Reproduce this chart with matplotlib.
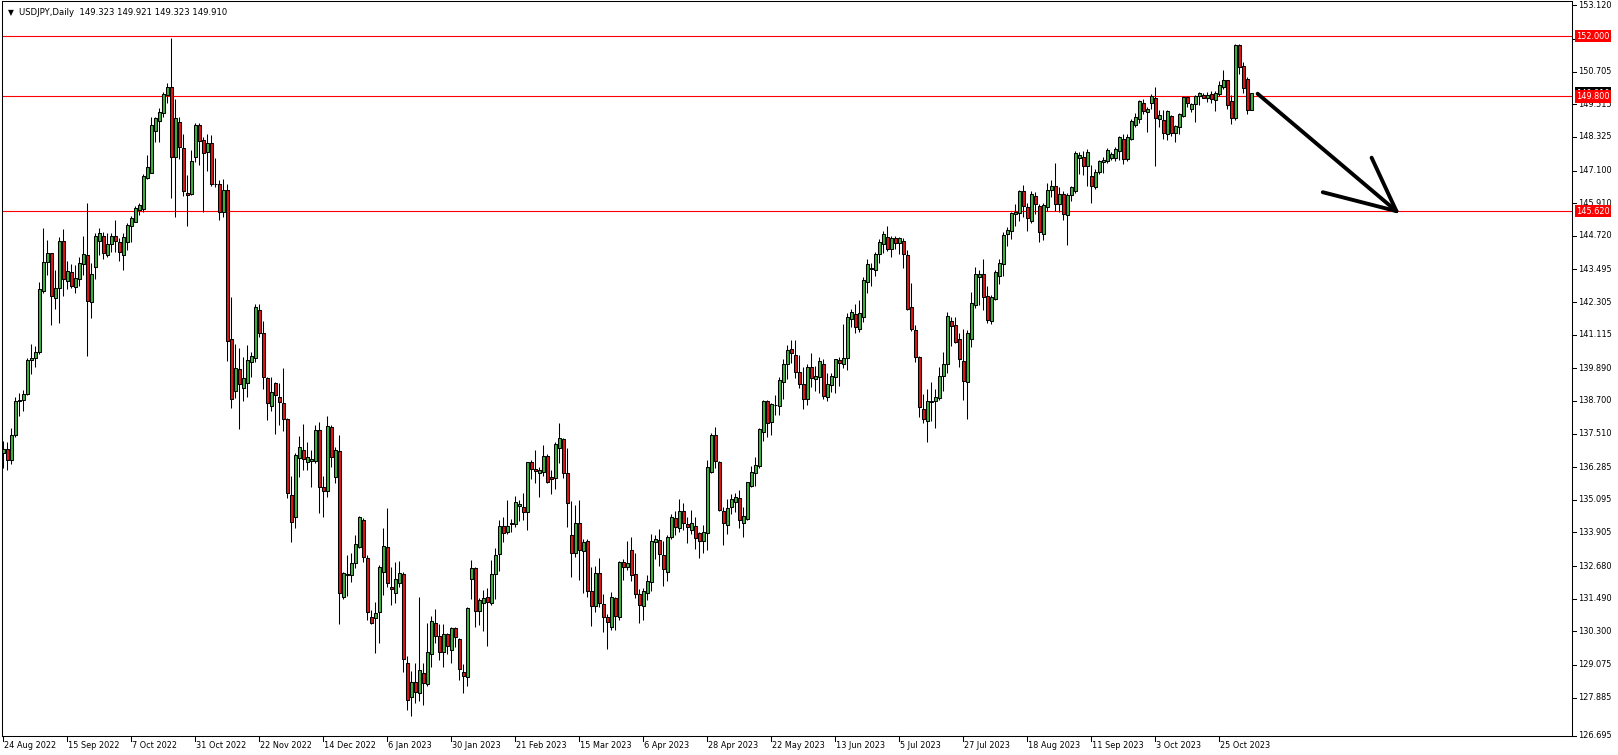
import numpy as np
import matplotlib
matplotlib.use("Agg")
import matplotlib.pyplot as plt

# USDJPY daily candles, 24 Aug 2022 .. 6 Nov 2023
OPEN = [
    136.80, 136.95, 136.55, 137.45, 138.70, 138.75, 138.95, 140.20, 140.25, 140.50,
    142.72, 143.75, 144.08, 142.45, 142.80, 144.53, 143.08, 143.41, 142.86, 143.16,
    143.68, 144.01, 142.32, 143.59, 144.54, 144.73, 144.02, 144.42, 144.71, 144.49,
    144.02, 144.51, 145.09, 145.24, 145.66, 145.70, 146.81, 147.02, 148.55, 148.92,
    149.21, 149.85, 150.13, 147.60, 148.86, 147.91, 146.27, 146.23, 147.60, 148.76,
    148.21, 147.79, 148.12, 146.62, 146.60, 145.60, 146.40, 140.95, 139.07, 139.86,
    139.19, 139.37, 140.13, 140.25, 142.02, 141.16, 139.52, 138.51, 139.34, 138.83,
    138.61, 138.03, 135.26, 134.48, 136.63, 136.91, 136.49, 136.52, 136.52, 137.64,
    135.55, 135.43, 137.76, 135.91, 136.87, 131.54, 132.36, 132.36, 132.80, 133.36,
    134.36, 132.96, 130.81, 130.77, 130.99, 132.48, 133.36, 131.90, 131.71, 132.05,
    132.39, 129.16, 127.90, 128.44, 128.06, 128.80, 128.38, 129.46, 130.59, 130.13,
    129.53, 130.20, 129.62, 130.41, 130.01, 128.83, 128.62, 132.20, 132.60, 131.04,
    131.34, 131.54, 131.32, 132.38, 133.11, 134.14, 133.93, 134.22, 134.21, 134.88,
    134.82, 134.66, 136.46, 136.21, 136.06, 136.10, 136.70, 135.91, 135.88, 136.97,
    137.30, 136.06, 133.81, 133.17, 134.24, 133.24, 133.59, 131.77, 131.24, 132.44,
    131.30, 130.81, 130.47, 131.50, 130.84, 132.82, 132.65, 133.27, 132.39, 131.66,
    131.24, 131.69, 132.09, 133.55, 133.63, 133.08, 132.48, 133.75, 134.42, 134.05,
    134.69, 134.20, 133.99, 134.15, 133.87, 133.61, 133.87, 136.12, 137.46, 136.46,
    134.70, 134.18, 134.82, 135.00, 135.15, 134.24, 134.40, 135.61, 136.06, 136.34,
    137.58, 138.70, 137.94, 138.55, 138.53, 139.40, 140.03, 140.58, 140.37, 139.74,
    139.31, 138.76, 139.93, 139.50, 139.58, 140.03, 138.83, 139.28, 139.58, 140.19,
    140.03, 140.25, 141.68, 141.86, 141.32, 141.75, 143.02, 143.51, 143.47, 144.05,
    144.41, 144.69, 144.23, 144.63, 144.47, 144.53, 144.02, 142.11, 141.29, 140.31,
    138.40, 137.98, 138.66, 138.71, 138.82, 139.62, 140.03, 141.63, 141.47, 140.96,
    140.16, 139.38, 140.95, 142.20, 143.23, 143.32, 142.53, 141.63, 142.41, 143.27,
    143.69, 144.77, 144.91, 145.51, 145.56, 146.35, 145.78, 145.27, 146.17, 145.81,
    144.77, 145.78, 146.39, 146.54, 145.87, 146.23, 145.48, 146.21, 146.37, 147.57,
    147.58, 147.27, 146.91, 146.51, 147.06, 147.41, 147.46, 147.54, 147.54, 147.82,
    148.24, 147.52, 148.25, 148.76, 148.97, 149.57, 149.22, 149.57, 149.76, 148.97,
    148.94, 148.42, 149.09, 148.48, 148.67, 149.10, 149.79, 149.33, 149.51, 149.82,
    149.85, 149.76, 149.88, 149.67, 149.88, 150.13, 150.40, 149.64, 149.03, 151.68,
    150.91, 150.44, 149.323,
]
HIGH = [
    137.25, 137.20, 137.70, 138.85, 139.00, 139.10, 140.25, 140.77, 140.70, 143.05,
    144.99, 144.57, 144.10, 143.47, 144.66, 144.96, 143.80, 143.68, 143.65, 143.93,
    144.71, 145.90, 143.72, 144.84, 144.99, 144.86, 144.83, 144.83, 145.30, 144.63,
    144.81, 145.17, 145.44, 145.81, 145.90, 146.97, 147.67, 149.04, 149.06, 149.39,
    149.97, 150.30, 151.92, 149.71, 149.06, 148.42, 146.94, 147.85, 148.82, 148.82,
    148.33, 148.45, 148.40, 147.55, 146.75, 146.80, 146.60, 142.48, 140.78, 140.62,
    140.29, 140.74, 140.50, 142.23, 142.23, 141.63, 139.56, 139.56, 139.40, 139.34,
    139.89, 138.07, 135.96, 136.81, 137.42, 137.86, 137.22, 136.91, 137.82, 137.94,
    135.96, 138.15, 137.82, 137.03, 137.46, 132.48, 133.08, 133.14, 133.81, 134.51,
    134.42, 133.08, 131.08, 131.38, 132.72, 134.06, 134.78, 132.66, 132.84, 132.87,
    132.48, 129.40, 128.85, 129.13, 131.54, 129.13, 130.62, 130.86, 131.10, 130.56,
    130.56, 130.25, 130.45, 130.47, 130.05, 129.11, 131.18, 132.90, 132.66, 131.50,
    131.81, 131.87, 132.90, 133.33, 134.36, 134.48, 135.09, 134.38, 135.23, 135.09,
    135.33, 136.49, 136.55, 136.91, 136.28, 137.09, 136.77, 136.18, 137.22, 137.88,
    137.34, 136.97, 135.05, 134.91, 135.09, 133.65, 133.65, 132.63, 132.70, 132.96,
    131.66, 130.93, 131.75, 131.57, 132.88, 132.94, 133.60, 133.75, 133.17, 131.83,
    131.89, 132.36, 133.85, 133.81, 134.03, 133.61, 133.81, 134.58, 134.70, 135.11,
    134.97, 134.46, 134.72, 134.46, 133.91, 134.18, 136.55, 137.54, 137.76, 136.50,
    134.85, 135.11, 135.31, 135.33, 135.45, 134.82, 135.76, 136.33, 136.67, 137.73,
    138.73, 138.72, 138.64, 138.92, 139.56, 140.22, 140.74, 140.92, 140.92, 140.37,
    139.95, 140.05, 140.46, 139.97, 140.31, 140.22, 139.71, 139.73, 140.24, 140.29,
    141.50, 141.89, 142.07, 142.23, 142.38, 143.23, 143.86, 143.72, 144.14, 144.60,
    144.91, 145.08, 144.71, 144.71, 144.67, 144.63, 144.20, 142.99, 141.47, 140.35,
    138.95, 139.12, 139.40, 139.12, 139.95, 140.50, 141.96, 141.77, 141.77, 141.19,
    141.31, 141.29, 142.66, 143.57, 143.48, 143.88, 142.89, 142.56, 143.47, 143.88,
    144.87, 145.05, 145.60, 145.88, 146.39, 146.57, 145.93, 146.37, 146.33, 145.88,
    145.90, 146.63, 146.76, 147.36, 146.51, 146.35, 146.27, 146.54, 147.82, 147.79,
    147.82, 147.88, 147.30, 147.14, 147.49, 147.61, 147.94, 147.79, 147.97, 148.36,
    148.42, 148.43, 148.97, 149.21, 149.67, 149.70, 149.40, 149.88, 150.13, 149.31,
    149.31, 149.31, 149.12, 148.76, 149.19, 149.83, 149.82, 149.57, 149.85, 149.98,
    149.91, 149.98, 150.00, 150.00, 150.36, 150.77, 150.40, 149.85, 151.72, 151.72,
    151.07, 150.52, 149.921,
]
LOW = [
    136.25, 136.20, 136.40, 137.40, 138.15, 138.35, 138.90, 139.70, 139.95, 140.40,
    142.65, 143.29, 141.47, 142.05, 141.55, 142.54, 142.77, 142.80, 142.62, 142.89,
    143.29, 140.35, 141.74, 143.14, 144.02, 143.87, 143.96, 144.14, 144.12, 143.81,
    143.47, 144.20, 144.51, 145.21, 145.48, 145.60, 146.79, 147.02, 148.15, 148.15,
    149.06, 149.55, 146.09, 145.42, 147.52, 146.18, 145.09, 146.21, 147.40, 147.30,
    145.60, 147.09, 146.55, 146.50, 145.30, 145.40, 140.17, 138.43, 138.80, 137.66,
    138.71, 138.86, 139.58, 140.13, 141.04, 139.12, 138.00, 138.35, 137.48, 137.82,
    137.62, 135.17, 133.57, 134.08, 135.94, 136.18, 136.18, 135.58, 136.45, 134.63,
    134.48, 135.21, 136.30, 135.72, 130.56, 131.47, 131.59, 132.11, 132.60, 133.33,
    132.84, 130.71, 130.55, 129.50, 129.88, 131.63, 131.93, 131.26, 131.35, 131.90,
    128.83, 127.43, 127.22, 127.70, 127.75, 127.60, 128.31, 129.01, 129.86, 129.26,
    128.99, 129.46, 129.16, 129.74, 128.53, 128.04, 128.31, 131.47, 130.47, 130.53,
    130.33, 129.78, 131.26, 131.48, 132.51, 133.57, 133.85, 133.93, 134.12, 134.34,
    134.36, 133.99, 135.85, 135.70, 135.21, 135.98, 135.72, 135.31, 135.49, 136.45,
    135.90, 134.09, 132.27, 133.00, 132.17, 131.69, 131.54, 130.49, 131.00, 131.20,
    130.29, 129.64, 130.35, 130.35, 130.71, 132.17, 132.54, 132.15, 131.50, 130.59,
    130.72, 131.44, 131.77, 132.93, 132.68, 131.95, 132.15, 133.67, 133.81, 133.93,
    133.99, 133.51, 133.85, 133.30, 132.99, 133.17, 133.27, 136.06, 136.24, 134.70,
    133.45, 133.85, 134.58, 134.66, 134.08, 133.73, 134.36, 135.58, 135.61, 136.27,
    137.24, 137.40, 137.46, 138.19, 138.19, 138.77, 139.49, 140.10, 139.55, 139.18,
    138.40, 138.55, 139.20, 139.07, 139.00, 138.77, 138.71, 139.01, 138.98, 139.26,
    139.91, 139.83, 141.41, 141.19, 141.20, 141.59, 142.65, 142.89, 143.26, 143.72,
    144.11, 144.17, 143.96, 144.23, 144.05, 143.53, 142.01, 141.26, 140.13, 138.13,
    137.88, 137.22, 137.98, 137.70, 138.73, 139.07, 139.73, 140.72, 140.80, 139.93,
    138.74, 138.03, 140.68, 142.08, 142.20, 142.02, 141.53, 141.49, 142.38, 142.96,
    143.27, 144.35, 144.60, 145.08, 145.27, 145.39, 144.91, 145.18, 145.50, 144.51,
    144.57, 145.64, 146.15, 145.62, 145.60, 145.30, 144.39, 146.00, 146.27, 146.99,
    146.94, 146.55, 145.90, 146.42, 146.97, 147.02, 147.36, 147.49, 147.46, 147.49,
    147.33, 147.45, 148.21, 148.67, 148.82, 149.15, 148.52, 149.34, 147.27, 148.70,
    148.24, 148.21, 148.36, 148.15, 148.42, 149.06, 149.43, 149.25, 148.88, 149.49,
    149.73, 149.61, 149.55, 149.28, 149.80, 150.06, 149.35, 148.78, 148.95, 150.62,
    149.91, 149.16, 149.323,
]
CLOSE = [
    136.95, 136.55, 137.45, 138.70, 138.75, 138.95, 140.20, 140.25, 140.50, 142.77,
    143.75, 144.08, 142.54, 142.80, 144.53, 143.13, 143.45, 142.90, 143.20, 143.72,
    144.04, 142.36, 143.32, 144.71, 144.83, 144.10, 144.42, 144.71, 144.54, 144.12,
    144.66, 145.11, 145.38, 145.72, 145.84, 146.90, 147.22, 148.75, 149.00, 149.22,
    149.89, 150.13, 147.60, 149.00, 147.95, 146.37, 146.21, 147.45, 148.76, 148.19,
    147.75, 148.12, 146.62, 146.60, 145.60, 146.40, 140.90, 138.76, 139.89, 139.30,
    139.52, 140.19, 140.34, 142.11, 141.19, 139.56, 138.61, 139.04, 138.92, 138.67,
    138.03, 135.33, 134.30, 136.73, 137.01, 136.57, 136.64, 136.60, 137.64, 135.55,
    135.43, 137.79, 136.67, 136.91, 131.69, 132.42, 132.39, 132.78, 133.49, 134.48,
    133.00, 131.02, 130.59, 130.96, 132.66, 133.41, 132.05, 131.86, 132.20, 132.44,
    129.28, 127.80, 128.46, 128.10, 128.89, 128.40, 129.53, 130.68, 130.14, 129.53,
    130.19, 129.78, 130.41, 130.08, 128.92, 128.67, 131.14, 132.60, 131.04, 131.44,
    131.50, 131.38, 132.38, 133.08, 134.14, 133.90, 134.14, 134.25, 135.00, 134.93,
    134.64, 136.46, 136.21, 136.15, 136.18, 136.70, 135.76, 135.85, 137.12, 137.34,
    136.09, 134.99, 133.17, 134.24, 133.26, 133.55, 131.78, 131.24, 132.44, 131.32,
    130.81, 130.65, 131.54, 130.87, 132.84, 132.66, 132.78, 132.36, 131.66, 131.26,
    131.77, 132.14, 133.61, 133.66, 133.11, 132.56, 133.73, 134.46, 134.09, 134.69,
    134.24, 134.09, 134.24, 133.69, 133.61, 133.94, 136.28, 137.46, 136.52, 134.72,
    134.24, 134.79, 135.12, 135.21, 134.36, 134.52, 135.73, 136.10, 136.37, 137.67,
    138.70, 137.88, 138.58, 138.57, 139.46, 140.05, 140.56, 140.44, 139.77, 139.31,
    138.76, 139.93, 139.55, 139.61, 140.16, 138.88, 139.31, 139.61, 140.22, 140.07,
    140.25, 141.75, 141.95, 141.41, 141.89, 143.11, 143.68, 143.55, 144.06, 144.48,
    144.77, 144.24, 144.63, 144.45, 144.63, 144.05, 142.05, 141.31, 140.31, 138.49,
    138.03, 138.71, 138.68, 138.83, 139.62, 140.03, 141.80, 141.45, 140.84, 140.22,
    139.44, 141.17, 142.26, 143.33, 143.32, 142.50, 141.65, 142.50, 143.39, 143.72,
    144.75, 144.93, 145.56, 145.60, 146.35, 145.82, 145.36, 146.23, 145.87, 144.85,
    145.84, 146.39, 146.54, 145.87, 146.23, 145.52, 146.21, 146.49, 147.73, 147.67,
    147.28, 147.76, 146.55, 147.06, 147.46, 147.49, 147.85, 147.69, 147.89, 148.34,
    147.52, 148.33, 148.92, 149.04, 149.63, 149.28, 149.33, 149.83, 149.03, 149.12,
    148.48, 149.27, 148.48, 148.72, 149.15, 149.79, 149.55, 149.52, 149.82, 149.91,
    149.76, 149.85, 149.70, 149.91, 150.22, 150.40, 149.50, 149.03, 151.68, 150.89,
    150.10, 149.31, 149.910,
]

DATE_LABELS = [
    "24 Aug 2022", "15 Sep 2022", "7 Oct 2022", "31 Oct 2022", "22 Nov 2022",
    "14 Dec 2022", "6 Jan 2023", "30 Jan 2023", "21 Feb 2023", "15 Mar 2023",
    "6 Apr 2023", "28 Apr 2023", "22 May 2023", "13 Jun 2023", "5 Jul 2023",
    "27 Jul 2023", "18 Aug 2023", "11 Sep 2023", "3 Oct 2023", "25 Oct 2023",
]
DATE_STEP = 16  # one date label every 16 bars

# price scale: the last label marks the bottom edge of the chart
PRICE_TICKS = [
    153.120, 151.910, 150.705, 149.515, 148.325, 147.100, 145.910, 144.720,
    143.495, 142.305, 141.115, 139.890, 138.700, 137.510, 136.285, 135.095,
    133.905, 132.680, 131.490, 130.300, 129.075, 127.885,
]
BOTTOM_LABEL = 126.695
LEVELS = [152.000, 149.800, 145.620]
BID = 149.910
TITLE = "USDJPY,Daily  149.323 149.921 149.323 149.910"

# hand-drawn arrow (bar index, price)
ARROW_SHAFT = [(313.6, 149.90), (348.3, 145.62)]
ARROW_WINGS = [(342.1, 147.57), (329.9, 146.31)]

# layout in pixels
FIG_W, FIG_H = 1618, 755
AX_L, AX_R, AX_T, AX_B = 2, 1572, 1, 736
XLIM = (-0.3, 392.2)
YLIM = (126.485, 153.281)
DATE_Y = 745

BULL = "#3cb43c"
BEAR = "#e01414"
FS = 5.9

plt.rcParams["font.family"] = ["DejaVu Sans"]

fig = plt.figure(figsize=(FIG_W / 100, FIG_H / 100), dpi=100)
ax = fig.add_axes([AX_L / FIG_W, 1 - AX_B / FIG_H,
                   (AX_R - AX_L) / FIG_W, (AX_B - AX_T) / FIG_H])
ax_w = AX_R - AX_L
ax_h = AX_B - AX_T


def fx(px):
    return (px - AX_L) / ax_w


o = np.array(OPEN)
h = np.array(HIGH)
l = np.array(LOW)
c = np.array(CLOSE)
x = np.arange(len(o))

ax.vlines(x, l, h, color="black", linewidth=0.75, zorder=3)
colors = np.where(c >= o, BULL, BEAR)
ax.bar(x, np.abs(c - o), bottom=np.minimum(o, c), width=0.66,
       color=colors, edgecolor="black", linewidth=0.75, zorder=4)

for lv in LEVELS:
    ax.axhline(lv, color="#ff0000", linewidth=0.8, zorder=2)

# arrow
ax.plot([p[0] for p in ARROW_SHAFT], [p[1] for p in ARROW_SHAFT],
        color="black", linewidth=2.8, solid_capstyle="round", zorder=5)
tip = ARROW_SHAFT[1]
for w in ARROW_WINGS:
    ax.plot([w[0], tip[0]], [w[1], tip[1]], color="black", linewidth=2.8,
            solid_capstyle="round", zorder=5)

ax.set_xlim(*XLIM)
ax.set_ylim(*YLIM)
ax.set_xticks([])
ax.set_yticks([])
for sp in ax.spines.values():
    sp.set_linewidth(0.75)
    sp.set_color("black")

# price scale
ytr = ax.get_yaxis_transform()
for p in PRICE_TICKS:
    ax.plot([1.0, fx(1576)], [p, p], transform=ytr, color="black",
            linewidth=0.75, clip_on=False)
    ax.text(fx(1578), p, f"{p:.3f}", transform=ytr, ha="left", va="center",
            fontsize=FS, clip_on=False, zorder=6)
ax.plot([1.0, fx(1576)], [0, 0], transform=ax.transAxes, color="black",
        linewidth=0.75, clip_on=False)
ax.text(fx(1578), 0, f"{BOTTOM_LABEL:.3f}", transform=ax.transAxes,
        ha="left", va="center", fontsize=FS, clip_on=False)

ax.text(fx(1593), BID, f"{BID:.3f}", transform=ytr, ha="center", va="center",
        fontsize=FS, color="white", clip_on=False, zorder=7,
        bbox=dict(facecolor="black", edgecolor="none", boxstyle="square,pad=0.2"))
for lv in LEVELS:
    ax.text(fx(1593), lv, f"{lv:.3f}", transform=ytr, ha="center", va="center",
            fontsize=FS, color="white", clip_on=False, zorder=8,
            bbox=dict(facecolor="#ff0000", edgecolor="none", boxstyle="square,pad=0.2"))

# time scale
xtr = ax.get_xaxis_transform()
for k, lab in enumerate(DATE_LABELS):
    xi = k * DATE_STEP
    ax.plot([xi, xi], [0, -5 / ax_h], transform=xtr, color="black",
            linewidth=0.75, clip_on=False)
    ax.text(xi + 0.3, -(DATE_Y - AX_B) / ax_h, lab, transform=xtr,
            ha="left", va="center", fontsize=FS, clip_on=False)

# header
fig.text(8 / FIG_W, 1 - 12.5 / FIG_H, "\u25bc", fontsize=5.5, ha="left", va="center")
fig.text(19 / FIG_W, 1 - 12.5 / FIG_H, TITLE, fontsize=6.1, ha="left", va="center")

fig.savefig("out.png", dpi=100)
